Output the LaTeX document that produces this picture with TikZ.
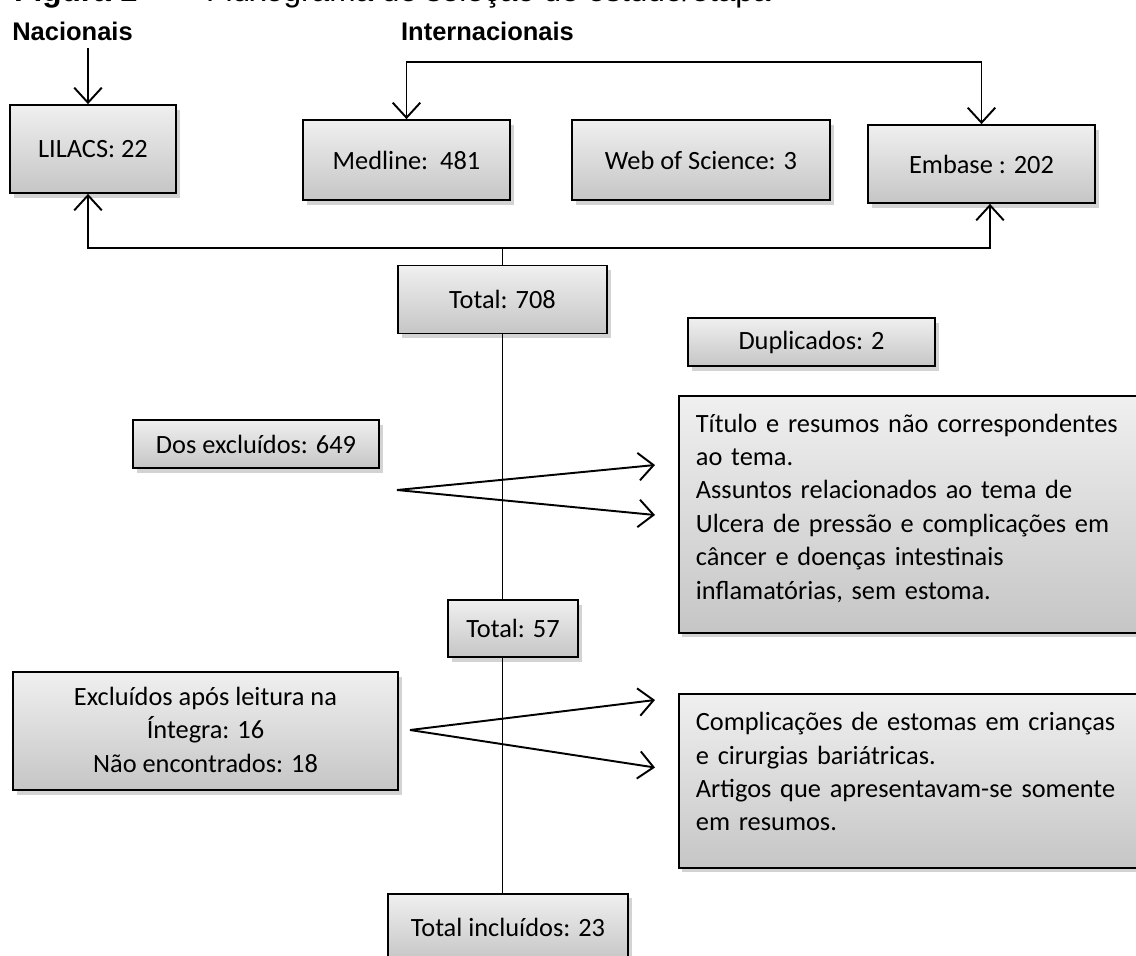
\documentclass[tikz,border=0pt]{standalone}
\usepackage{fontspec}
\setmainfont{Carlito}
\newfontfamily\arialfont{Liberation Sans}
\usepackage{tikz}
\usetikzlibrary{arrows.meta,positioning,shadows,calc}

\tikzset{
  caixa/.style={draw, line width=1pt, top color=gray!12, bottom color=gray!45,
    drop shadow={shadow xshift=0.07cm, shadow yshift=-0.09cm, opacity=0.35},
    font=\fontsize{15}{19}\selectfont, align=center, inner sep=0pt},
  ponta/.tip={Straight Barb[length=3mm,width=5.5mm]},
  seta/.style={line width=1.1pt, -ponta},
  setadupla/.style={line width=1.1pt, ponta-ponta},
  titulo/.style={font=\arialfont\bfseries\fontsize{14.5}{17}\selectfont}
}
\newcommand{\linha}[1]{\makebox[8.7cm][s]{#1}}

\begin{document}
\begin{tikzpicture}
\useasboundingbox (0,0) rectangle (22.72,-19.1);
\clip (0,0) rectangle (22.72,-19.1);

% cabecalho
\node[anchor=base west, font=\arialfont\bfseries\fontsize{18}{20}\selectfont] (fig) at (0.16,-0.03) {Figura 1 --};
\node[anchor=base west, font=\arialfont\fontsize{18}{20}\selectfont] (flux) at (4.0,-0.03) {Fluxograma de seleção de estudo/etapa};
\node[titulo] (nac) at (1.45,-0.62) {Nacionais};
\node[titulo] (int) at (9.75,-0.62) {Internacionais};

% bases
\node[caixa, minimum width=3.32cm, minimum height=1.76cm] (lil) at (1.86,-2.98) {LILACS: 22};
\node[caixa, minimum width=4.14cm, minimum height=1.6cm] (med) at (8.13,-3.2) {Medline:\ \ 481};
\node[caixa, minimum width=5.16cm, minimum height=1.6cm] (web) at (14.02,-3.2) {Web of Science: 3};
\node[caixa, minimum width=4.54cm, minimum height=1.56cm] (emb) at (19.63,-3.28) {Embase : 202};

% etapas
\node[caixa, minimum width=4.18cm, minimum height=1.36cm] (t708) at (10.05,-5.99) {Total: 708};
\node[caixa, minimum width=4.94cm, minimum height=0.96cm] (dup) at (16.23,-6.84) {\raisebox{-0.12cm}{Duplicados: 2}};
\node[caixa, minimum width=4.92cm, minimum height=0.96cm] (dos) at (5.12,-8.88) {Dos excluídos: 649};
\node[caixa, anchor=north west, minimum height=4.74cm, text width=8.7cm, inner xsep=0.34cm, align=left] (mot1) at (13.56,-7.9)
  {\linha{Título e resumos não correspondentes}\\
   ao tema.\\
   \linha{Assuntos relacionados ao tema de}\\
   \linha{Ulcera de pressão e complicações em}\\
   \linha{câncer e doenças intestinais}\\
   inflamatórias, sem estoma.\\[-0.35cm]\mbox{}};
\node[caixa, minimum width=2.6cm, minimum height=1.14cm] (t57) at (10.26,-12.57) {Total: 57};
\node[caixa, minimum width=7.7cm, minimum height=2.36cm] (exc) at (4.11,-14.62)
  {\mbox{}\\[-0.35cm]Excluídos após leitura na\\ Íntegra: 16\\ Não encontrados: 18};
\node[caixa, anchor=north west, minimum height=3.48cm, text width=8.7cm, inner xsep=0.34cm, align=left] (mot2) at (13.56,-13.86)
  {\linha{Complicações de estomas em crianças}\\
   e cirurgias bariátricas.\\
   \linha{Artigos que apresentavam-se somente}\\
   em resumos.\\[-0.3cm]\mbox{}};
\node[caixa, anchor=north, minimum width=4.8cm, minimum height=1.34cm] (tinc) at (10.16,-17.86) {Total incluídos: 23};

% ligacoes
\coordinate (nacp) at (1.76,-0.96);
\coordinate (intl) at (10,-1.24);
\coordinate (soma) at (10.05,-4.96);
\draw[seta] (nacp) -- (nacp |- lil.north);
\draw[setadupla] (med.north) |- (intl) -| (emb.north);
\draw[setadupla] ($(lil.south)+(-0.1,0)$) |- (soma) -| ($(emb.south)+(0.17,0)$);
\draw[line width=0.7pt] (soma) -- (t708.north);
\draw[line width=0.7pt] (t708.south) -- (t708.south |- t57.north);
\draw[line width=0.7pt] (t708.south |- t57.south) -- (t708.south |- tinc.north);

\coordinate (g1) at (7.94,-9.8);
\draw[seta] (g1) -- (13.1,-9.3);
\draw[seta] (g1) -- (13.1,-10.3);
\coordinate (g2) at (8.2,-14.6);
\draw[seta] (g2) -- (13.1,-14.0);
\draw[seta] (g2) -- (13.1,-15.35);
\end{tikzpicture}
\end{document}
